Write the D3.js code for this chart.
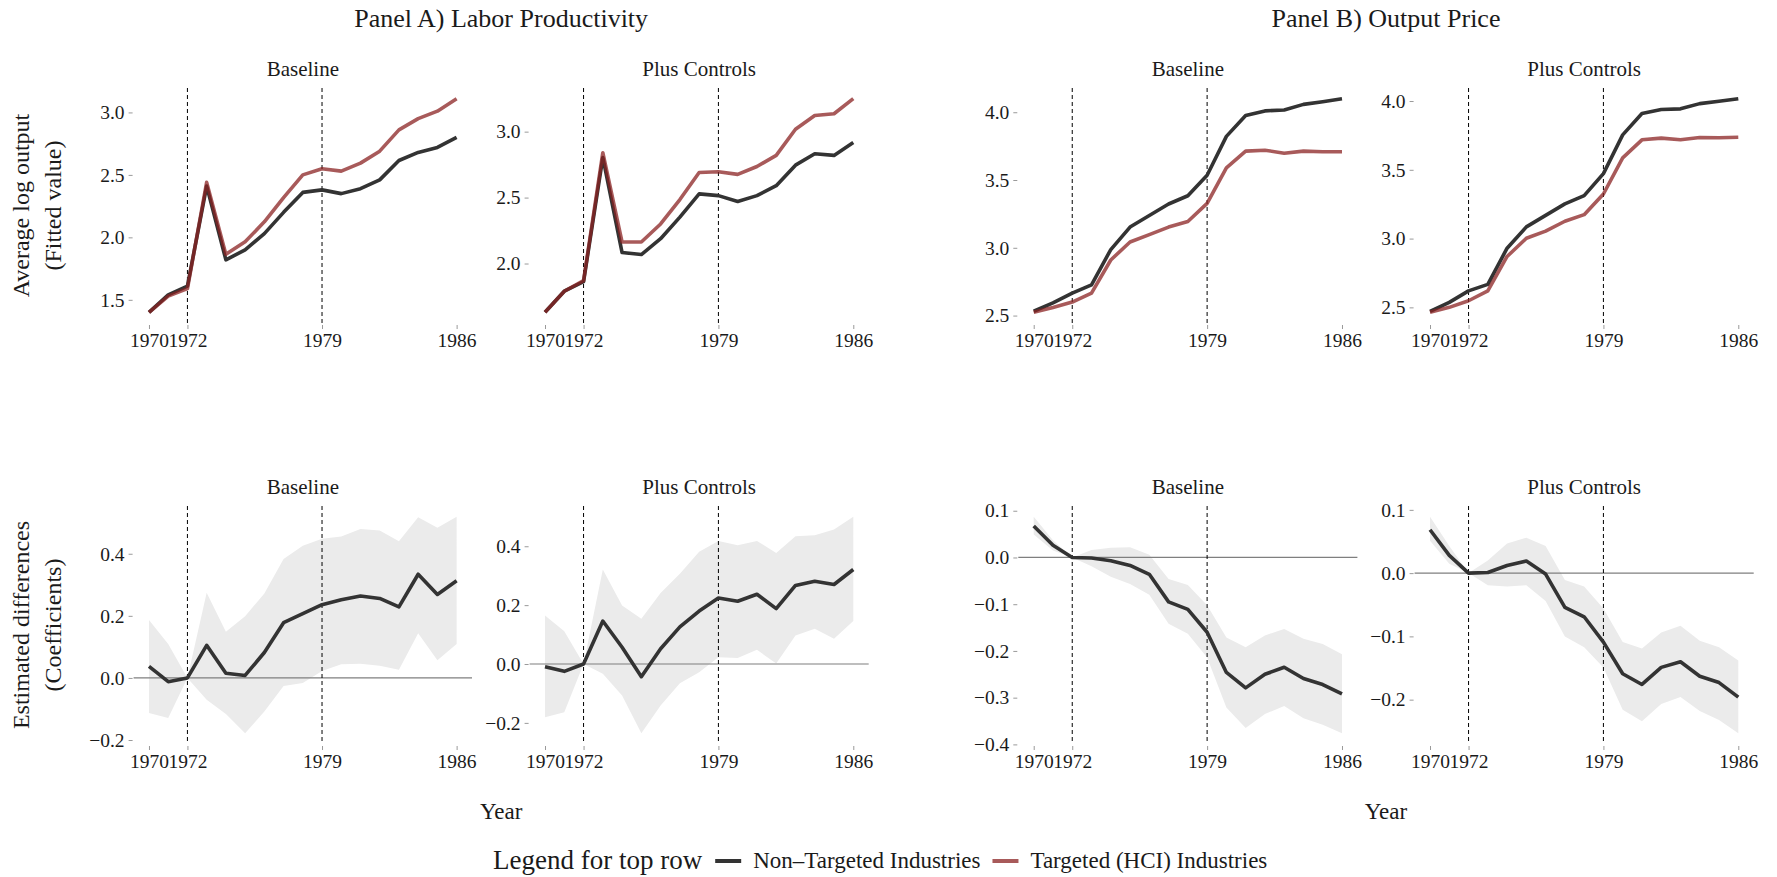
<!DOCTYPE html>
<html>
<head>
<meta charset="utf-8">
<script src="https://cdn.jsdelivr.net/npm/d3@7"></script>
<style>
  html, body { margin: 0; padding: 0; background: #ffffff; }
  svg text { font-family: "Liberation Serif", "DejaVu Serif", serif; fill: #1a1a1a; }
</style>
</head>
<body>
<svg id="chart" width="1777" height="877"></svg>
<script>
// ---------------- DATA ----------------
const years = [1970,1971,1972,1973,1974,1975,1976,1977,1978,1979,1980,1981,1982,1983,1984,1985,1986];
const xTickYears = [1970, 1972, 1979, 1986];
const markerYears = [1972, 1979];

const panelTitles = ["Panel A) Labor Productivity", "Panel B) Output Price"];
const stripTitles = ["Baseline", "Plus Controls"];
const legendTitle = "Legend for top row";
const seriesNames = ["Non\u2013Targeted Industries", "Targeted (HCI) Industries"];
const yTitlesTop = ["Average log output", "(Fitted value)"];
const yTitlesBottom = ["Estimated differences", "(Coefficients)"];
const xTitle = "Year";

// Top row: fitted values
const lpBaseNon   = [1.40,1.54,1.61,2.41,1.82,1.90,2.03,2.20,2.36,2.38,2.35,2.39,2.46,2.615,2.68,2.72,2.80];
const lpBaseHci   = [1.40,1.53,1.59,2.44,1.864,1.965,2.124,2.318,2.50,2.549,2.53,2.594,2.69,2.86,2.95,3.01,3.11];
const lpCtrlNon   = [1.63,1.79,1.862,2.804,2.083,2.068,2.188,2.352,2.528,2.515,2.47,2.515,2.59,2.746,2.832,2.82,2.917];
const lpCtrlHci   = [1.63,1.79,1.87,2.84,2.163,2.163,2.30,2.485,2.69,2.696,2.676,2.736,2.82,3.018,3.123,3.136,3.25];
const prBaseNon   = [2.532,2.593,2.666,2.727,2.987,3.153,3.238,3.323,3.384,3.535,3.822,3.976,4.01,4.017,4.058,4.078,4.10];
const prBaseHci   = [2.524,2.56,2.60,2.666,2.91,3.043,3.097,3.153,3.194,3.328,3.59,3.713,3.72,3.698,3.713,3.708,3.708];
const prCtrlNon   = [2.471,2.536,2.62,2.667,2.93,3.085,3.169,3.252,3.312,3.472,3.754,3.909,3.938,3.943,3.981,3.998,4.017];
const prCtrlHci   = [2.464,2.50,2.548,2.62,2.87,3.002,3.054,3.126,3.174,3.324,3.587,3.718,3.73,3.718,3.735,3.733,3.737];

// Bottom row: coefficients with confidence bands
const lpBaseCoef  = [0.037,-0.012,0.0,0.105,0.015,0.008,0.082,0.178,0.207,0.236,0.252,0.264,0.256,0.229,0.334,0.269,0.313];
const lpBaseHi    = [0.187,0.109,0.0,0.274,0.149,0.199,0.272,0.383,0.426,0.448,0.456,0.48,0.475,0.44,0.518,0.484,0.519];
const lpBaseLo    = [-0.113,-0.129,0.0,-0.07,-0.116,-0.178,-0.108,-0.026,-0.016,0.022,0.044,0.046,0.039,0.026,0.144,0.057,0.109];
const lpCtrlCoef  = [-0.009,-0.025,0.0,0.146,0.057,-0.043,0.052,0.126,0.18,0.224,0.213,0.237,0.188,0.267,0.281,0.270,0.321];
const lpCtrlHi    = [0.165,0.111,0.0,0.321,0.199,0.154,0.241,0.307,0.381,0.418,0.403,0.418,0.377,0.434,0.437,0.457,0.50];
const lpCtrlLo    = [-0.181,-0.164,0.0,-0.033,-0.107,-0.235,-0.141,-0.065,-0.028,0.023,0.02,0.048,0.002,0.097,0.12,0.086,0.146];
const prBaseCoef  = [0.0675,0.026,0.0,-0.001,-0.007,-0.017,-0.036,-0.095,-0.111,-0.16,-0.246,-0.279,-0.25,-0.235,-0.259,-0.272,-0.292];
const prBaseHi    = [0.087,0.037,0.0,0.016,0.021,0.022,0.006,-0.046,-0.059,-0.102,-0.171,-0.192,-0.167,-0.153,-0.174,-0.185,-0.207];
const prBaseLo    = [0.049,0.015,0.0,-0.019,-0.041,-0.057,-0.080,-0.142,-0.163,-0.214,-0.321,-0.365,-0.335,-0.318,-0.344,-0.358,-0.376];
const prCtrlCoef  = [0.0685,0.028,0.0,0.001,0.012,0.019,-0.0015,-0.054,-0.069,-0.109,-0.159,-0.176,-0.149,-0.140,-0.163,-0.173,-0.196];
const prCtrlHi    = [0.089,0.043,0.0,0.020,0.047,0.056,0.043,-0.011,-0.021,-0.056,-0.109,-0.119,-0.094,-0.083,-0.107,-0.117,-0.138];
const prCtrlLo    = [0.051,0.015,0.0,-0.019,-0.021,-0.019,-0.044,-0.10,-0.117,-0.149,-0.216,-0.234,-0.207,-0.196,-0.218,-0.232,-0.253];

// Tick labels per panel
const ticksLpBase = [1.5, 2.0, 2.5, 3.0];
const ticksLpCtrl = [2.0, 2.5, 3.0];
const ticksPrice  = [2.5, 3.0, 3.5, 4.0];
const ticksLpCoef = [-0.2, 0.0, 0.2, 0.4];
const ticksPrBaseCoef = [-0.4, -0.3, -0.2, -0.1, 0.0, 0.1];
const ticksPrCtrlCoef = [-0.2, -0.1, 0.0, 0.1];

// ---------------- LAYOUT / STYLE ----------------
const colX = [[133.6, 472], [529.6, 868.7], [1018.3, 1357.4], [1414.6, 1753.7]];
const rowY = [[88, 323], [506, 744]];
const COL_NON = "#333333";
const COL_HCI = "rgba(139,35,35,0.75)";
const COL_BAND = "#ebebeb";
const TEXT = "#1a1a1a";
const FONT = '"Liberation Serif", "DejaVu Serif", serif';

const svg = d3.select("#chart");

const fmt1 = d3.format(".1f");
const fmtTick = v => (v < 0 ? "\u2212" + fmt1(-v) : fmt1(v));

function expandDomain(vals) {
  const [mn, mx] = d3.extent(vals);
  const r = mx - mn;
  return [mn - 0.05 * r, mx + 0.05 * r];
}

const panels = [
  {col:0,row:0,strip:0,type:"lines",a:lpBaseNon,b:lpBaseHci,ticks:ticksLpBase},
  {col:1,row:0,strip:1,type:"lines",a:lpCtrlNon,b:lpCtrlHci,ticks:ticksLpCtrl},
  {col:2,row:0,strip:0,type:"lines",a:prBaseNon,b:prBaseHci,ticks:ticksPrice},
  {col:3,row:0,strip:1,type:"lines",a:prCtrlNon,b:prCtrlHci,ticks:ticksPrice},
  {col:0,row:1,strip:0,type:"coef",c:lpBaseCoef,hi:lpBaseHi,lo:lpBaseLo,ticks:ticksLpCoef},
  {col:1,row:1,strip:1,type:"coef",c:lpCtrlCoef,hi:lpCtrlHi,lo:lpCtrlLo,ticks:ticksLpCoef},
  {col:2,row:1,strip:0,type:"coef",c:prBaseCoef,hi:prBaseHi,lo:prBaseLo,ticks:ticksPrBaseCoef},
  {col:3,row:1,strip:1,type:"coef",c:prCtrlCoef,hi:prCtrlHi,lo:prCtrlLo,ticks:ticksPrCtrlCoef}
];

panels.forEach(p => {
  const [x0, x1] = colX[p.col];
  const [y0, y1] = rowY[p.row];
  const x = d3.scaleLinear().domain(expandDomain(years)).range([x0, x1]);
  const allVals = p.type === "lines" ? p.a.concat(p.b) : p.c.concat(p.hi, p.lo);
  const y = d3.scaleLinear().domain(expandDomain(allVals)).range([y1, y0]);
  const g = svg.append("g");

  // strip title
  g.append("text")
    .attr("x", (x0 + x1) / 2).attr("y", y0 - 12)
    .attr("text-anchor", "middle").attr("font-size", 21)
    .text(stripTitles[p.strip]);

  if (p.type === "coef") {
    const area = d3.area().x((d, i) => x(years[i])).y0((d, i) => y(p.lo[i])).y1((d, i) => y(p.hi[i]));
    g.append("path").datum(p.c).attr("d", area).attr("fill", COL_BAND);
    g.append("line")
      .attr("x1", x0).attr("x2", x1).attr("y1", y(0)).attr("y2", y(0))
      .attr("stroke", "#7f7f7f").attr("stroke-width", 1.2);
  }

  // dashed markers
  markerYears.forEach(yr => {
    g.append("line")
      .attr("x1", x(yr)).attr("x2", x(yr)).attr("y1", y0).attr("y2", y1)
      .attr("stroke", "#000").attr("stroke-width", 1).attr("stroke-dasharray", "4,3");
  });

  const line = d3.line().x((d, i) => x(years[i])).y(d => y(d));
  if (p.type === "lines") {
    g.append("path").datum(p.a).attr("d", line).attr("fill", "none")
      .attr("stroke", COL_NON).attr("stroke-width", 3.6).attr("stroke-linejoin", "round");
    g.append("path").datum(p.b).attr("d", line).attr("fill", "none")
      .attr("stroke", COL_HCI).attr("stroke-width", 3.6).attr("stroke-linejoin", "round");
  } else {
    g.append("path").datum(p.c).attr("d", line).attr("fill", "none")
      .attr("stroke", COL_NON).attr("stroke-width", 3.6).attr("stroke-linejoin", "round");
  }

  // y axis
  const yAxis = d3.axisLeft(y).tickValues(p.ticks).tickSize(4).tickPadding(4).tickFormat(fmtTick);
  const ya = g.append("g").attr("transform", `translate(${x0 - 1},0)`).call(yAxis);
  ya.select(".domain").remove();
  ya.selectAll(".tick line").attr("stroke", "#9a9a9a");
  ya.selectAll(".tick text").attr("font-size", 19.5).attr("font-family", FONT).attr("fill", TEXT);

  // x axis
  const xAxis = d3.axisBottom(x).tickValues(xTickYears).tickSize(4).tickPadding(4).tickFormat(d3.format("d"));
  const xa = g.append("g").attr("transform", `translate(0,${y1 + 2})`).call(xAxis);
  xa.select(".domain").remove();
  xa.selectAll(".tick line").attr("stroke", "#9a9a9a");
  xa.selectAll(".tick text").attr("font-size", 19.5).attr("font-family", FONT).attr("fill", TEXT);
});

// Panel titles
[[colX[0][0], colX[1][1]], [colX[2][0], colX[3][1]]].forEach((r, i) => {
  svg.append("text").attr("x", (r[0] + r[1]) / 2).attr("y", 27)
    .attr("text-anchor", "middle").attr("font-size", 26).text(panelTitles[i]);
  svg.append("text").attr("x", (r[0] + r[1]) / 2).attr("y", 819)
    .attr("text-anchor", "middle").attr("font-size", 23).text(xTitle);
});

// Y axis titles (left side)
function yTitle(lines, cy) {
  lines.forEach((t, i) => {
    svg.append("text")
      .attr("transform", `translate(${29 + i * 31.5},${cy}) rotate(-90)`)
      .attr("text-anchor", "middle").attr("font-size", 24).text(t);
  });
}
yTitle(yTitlesTop, (rowY[0][0] + rowY[0][1]) / 2);
yTitle(yTitlesBottom, (rowY[1][0] + rowY[1][1]) / 2);

// Legend
const lg = svg.append("g");
let lx = 493;
const ly = 861;
const lt = lg.append("text").attr("x", lx).attr("y", ly + 8).attr("font-size", 27).text(legendTitle);
lx += lt.node().getComputedTextLength() + 13;
[COL_NON, COL_HCI].forEach((c, i) => {
  lg.append("line").attr("x1", lx).attr("x2", lx + 26).attr("y1", ly).attr("y2", ly)
    .attr("stroke", c).attr("stroke-width", 4);
  const t = lg.append("text").attr("x", lx + 38).attr("y", ly + 7).attr("font-size", 23).text(seriesNames[i]);
  lx += 38 + t.node().getComputedTextLength() + 12;
});
</script>
</body>
</html>
